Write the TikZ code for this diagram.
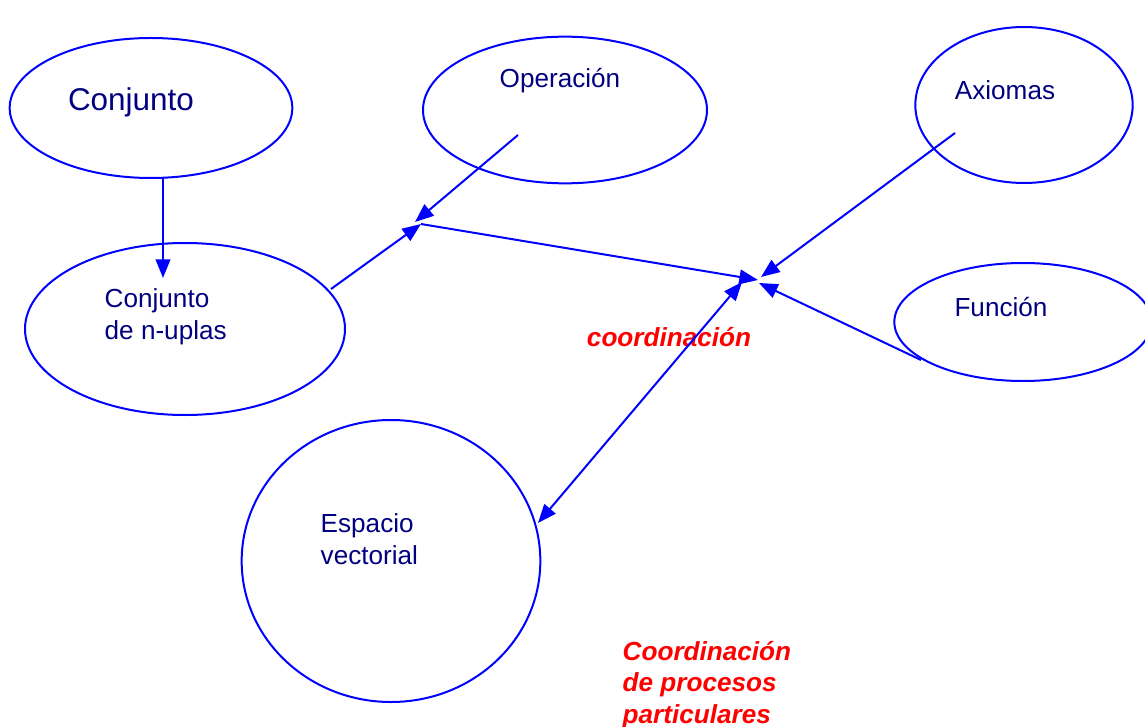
\documentclass[tikz,border=0pt]{standalone}
\usepackage{fontspec}
\setmainfont{Liberation Sans}
\usetikzlibrary{shapes.geometric,arrows.meta}
\definecolor{navy}{RGB}{0,0,128}
\definecolor{lineblue}{RGB}{0,0,255}
\definecolor{labelred}{RGB}{255,0,0}
\tikzset{
  bubble/.style={ellipse,draw=lineblue,line width=1.5pt,inner sep=0pt},
  concept/.style={text=navy,font=\fontsize{19.6}{24}\selectfont},
  note/.style={text=labelred,font=\fontsize{19.6}{23.5}\selectfont\bfseries\itshape},
  arr/.style={draw=lineblue,line width=1.5pt,-{Triangle[length=14pt,width=11pt]}},
  darr/.style={draw=lineblue,line width=1.5pt,{Triangle[length=14pt,width=11pt]}-{Triangle[length=14pt,width=11pt]}}
}
\begin{document}
\begin{tikzpicture}[x=0.75pt,y=-0.75pt]
\useasboundingbox (0,0) rectangle (1145,727);

% ellipses
\node[bubble,minimum width=212pt,minimum height=105pt] (conj) at (151,108) {};
\node[bubble,minimum width=213pt,minimum height=110pt] (oper) at (565,110) {};
\node[bubble,minimum width=163pt,minimum height=117pt] (axio) at (1024,105) {};
\node[bubble,minimum width=240pt,minimum height=129pt] (nupl) at (185,329) {};
\node[bubble,minimum width=193pt,minimum height=88.5pt] (func) at (1023,322) {};
\node[bubble,minimum width=224pt,minimum height=211.5pt] (espa) at (391,561) {};

% texts
\node[concept,font=\fontsize{23.6}{28}\selectfont] (conjT) at (131,102) {Conjunto};
\node[concept] (operT) at (560,81) {Operación};
\node[concept] (axioT) at (1005,90) {Axiomas};
\node[concept] (funcT) at (1001,307) {Función};
\node[concept,anchor=west,align=left] (nuplT) at (100,317) {Conjunto\\de n-uplas};
\node[concept,anchor=west,align=left] (espaT) at (316,539) {Espacio\\vectorial};
\node[note] (coord) at (669,337) {coordinación};
\node[note,anchor=west,align=left] (procs) at (618,685)
 {Coordinación\\de procesos\\particulares};

% end points
\coordinate (c1) at (163,178);
\coordinate (c2) at (163,278);
\coordinate (o1) at (518,135);
\coordinate (j1) at (415,222);
\coordinate (n1) at (331,289);
\coordinate (j2) at (421,224);
\coordinate (j3) at (758,280);
\coordinate (a1) at (955,133);
\coordinate (j4) at (761,277);
\coordinate (f1) at (921,360);
\coordinate (j5) at (759,283);
\coordinate (e1) at (538,523);
\coordinate (j6) at (742,282);

% connectors
\draw[arr] (c1) -- (c2);
\draw[arr] (o1) -- (j1);
\draw[arr] (n1) -- (j2);
\draw[arr] (j2) -- (j3);
\draw[arr] (a1) -- (j4);
\draw[arr] (f1) -- (j5);
\draw[darr] (e1) -- (j6);
\end{tikzpicture}
\end{document}
